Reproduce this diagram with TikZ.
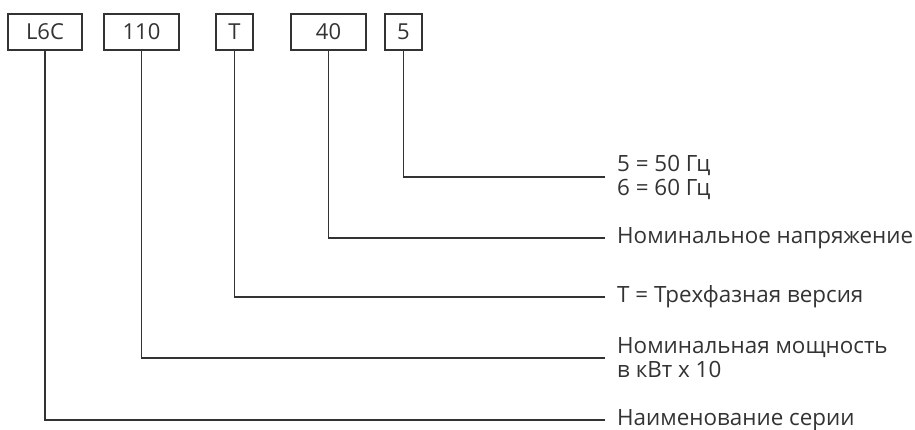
\documentclass[tikz,border=0pt]{standalone}
\usepackage{fontspec}
\setmainfont{Open Sans}
\begin{document}
\begin{tikzpicture}[x=1pt,y=-1pt,
  code/.style={draw=ink,line width=1.1pt,minimum height=36pt,inner sep=0pt,text=ink,font=\fontsize{22}{24}\selectfont},
  lbl/.style={anchor=west,inner sep=0pt,text=ink,font=\fontsize{22.4}{24}\selectfont,align=left},
  conn/.style={draw=ink,line width=1.1pt}]
\definecolor{ink}{HTML}{333333}
\useasboundingbox (0,0) rectangle (915,430);
\node[code,minimum width=74pt] (a) at (45,32) {L6C};
\node[code,minimum width=75pt] (b) at (141.5,32) {110};
\node[code,minimum width=37pt] (c) at (234.5,32) {T};
\node[code,minimum width=75pt] (d) at (328.5,32) {40};
\node[code,minimum width=37pt] (e) at (403.5,32) {5};
\coordinate (ea) at (605,177);
\coordinate (da) at (605,238);
\coordinate (ca) at (605,297);
\coordinate (ba) at (605,358);
\coordinate (aa) at (605,420);
\draw[conn] (e.south) |- (ea);
\draw[conn] (d.south) |- (da);
\draw[conn] (c.south) |- (ca);
\draw[conn] (b.south) |- (ba);
\draw[conn] (a.south) |- (aa);
\node[lbl] (le) at (617,177) {5 = 50 Гц\\6 = 60 Гц};
\node[lbl] (ld) at (617,238) {Номинальное напряжение};
\node[lbl] (lc) at (617,297) {T = Трехфазная версия};
\node[lbl] (lb) at (617,358) {Номинальная мощность\\в кВт x 10};
\node[lbl] (la) at (617,420) {Наименование серии};
\end{tikzpicture}
\end{document}
